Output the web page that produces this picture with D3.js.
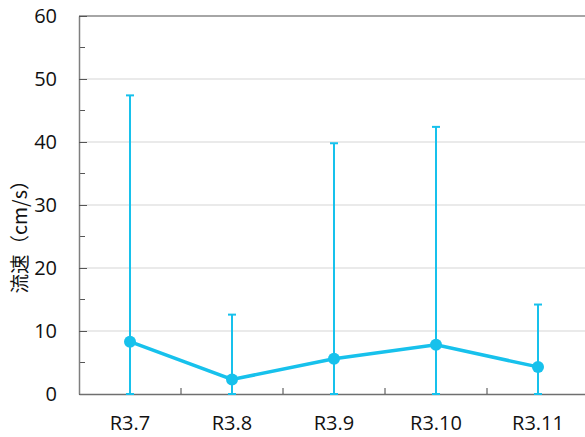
<!DOCTYPE html>
<html>
<head>
<meta charset="utf-8">
<script src="https://cdn.jsdelivr.net/npm/d3@7"></script>
<style>
  html, body { margin: 0; padding: 0; background: #fff; overflow: hidden; }
  svg { display: block; }
</style>
</head>
<body>
<svg id="chart" width="585" height="437"></svg>
<script>
// chart data
const categories = ["R3.7", "R3.8", "R3.9", "R3.10", "R3.11"];
const means = [8.3, 2.3, 5.6, 7.8, 4.3];
const errors = [39.1, 10.3, 34.2, 34.6, 9.9];
const yTicks = [0, 10, 20, 30, 40, 50, 60];
const yLabel = "流速（cm/s）";

const margin = { top: 16, left: 79 };
const plotW = 510, plotH = 378;
const lineColor = "#17c1ec";
const font = "'Open Sans', 'Noto Sans', sans-serif";

const svg = d3.select("#chart");
const g = svg.append("g").attr("transform", `translate(${margin.left},${margin.top})`);

const x = d3.scaleBand().domain(categories).range([0, plotW]);
const y = d3.scaleLinear().domain([0, 60]).range([plotH, 0]);

// gridlines
g.selectAll(".grid")
  .data(yTicks.filter(d => d > 0 && d < 60))
  .enter().append("line")
  .attr("x1", 0).attr("x2", plotW)
  .attr("y1", d => y(d)).attr("y2", d => y(d))
  .attr("stroke", "#e3e3e3").attr("stroke-width", 1.5);

// top border
g.append("line")
  .attr("x1", 0).attr("x2", plotW)
  .attr("y1", y(60)).attr("y2", y(60))
  .attr("stroke", "#a6a6a6").attr("stroke-width", 2);

// minor ticks at 5s
g.selectAll(".minor")
  .data(d3.range(5, 60, 10))
  .enter().append("line")
  .attr("x1", 0).attr("x2", 6)
  .attr("y1", d => y(d)).attr("y2", d => y(d))
  .attr("stroke", "#555").attr("stroke-width", 1);

// y axis
const yAxis = g.append("g")
  .call(d3.axisLeft(y).tickValues(yTicks).tickSizeInner(-8).tickSizeOuter(0).tickPadding(22))
  .attr("font-family", font);
yAxis.select(".domain").attr("stroke", "#7f7f7f").attr("stroke-width", 1.5);
yAxis.selectAll(".tick line").attr("stroke", "#555");
yAxis.selectAll("text").attr("font-size", 20).attr("fill", "#111");

// x axis
const xAxis = g.append("g")
  .attr("transform", `translate(0,${plotH})`)
  .call(d3.axisBottom(x).tickSize(0).tickPadding(22))
  .attr("font-family", font);
xAxis.select(".domain").attr("stroke", "#6f6f6f").attr("stroke-width", 1.5);
xAxis.selectAll("text").attr("font-size", 20).attr("fill", "#111");

// category boundary ticks
g.selectAll(".xtick")
  .data(categories.slice(1))
  .enter().append("line")
  .attr("x1", d => x(d)).attr("x2", d => x(d))
  .attr("y1", plotH).attr("y2", plotH - 6)
  .attr("stroke", "#444").attr("stroke-width", 1);

const cx = d => x(d) + x.bandwidth() / 2;

// error bars
const eb = g.selectAll(".err")
  .data(categories)
  .enter().append("g");
eb.append("line")
  .attr("x1", cx).attr("x2", cx)
  .attr("y1", (d, i) => y(means[i] + errors[i]))
  .attr("y2", (d, i) => y(Math.max(0, means[i] - errors[i])))
  .attr("stroke", lineColor).attr("stroke-width", 2);
eb.append("line")
  .attr("x1", d => cx(d) - 4).attr("x2", d => cx(d) + 4)
  .attr("y1", (d, i) => y(means[i] + errors[i]))
  .attr("y2", (d, i) => y(means[i] + errors[i]))
  .attr("stroke", lineColor).attr("stroke-width", 2);
eb.append("line")
  .attr("x1", d => cx(d) - 4).attr("x2", d => cx(d) + 4)
  .attr("y1", (d, i) => y(Math.max(0, means[i] - errors[i])))
  .attr("y2", (d, i) => y(Math.max(0, means[i] - errors[i])))
  .attr("stroke", lineColor).attr("stroke-width", 2);

// mean line
const line = d3.line()
  .x((d, i) => cx(categories[i]))
  .y(d => y(d));
g.append("path")
  .datum(means)
  .attr("d", line)
  .attr("fill", "none")
  .attr("stroke", lineColor)
  .attr("stroke-width", 3.5);

g.selectAll(".dot")
  .data(means)
  .enter().append("circle")
  .attr("cx", (d, i) => cx(categories[i]))
  .attr("cy", d => y(d))
  .attr("r", 6)
  .attr("fill", lineColor);

// y label
svg.append("text")
  .attr("transform", "translate(27,232) rotate(-90)")
  .attr("text-anchor", "middle")
  .attr("font-size", 19.5)
  .attr("font-family", "'Noto Sans CJK JP', 'Noto Sans', sans-serif")
  .attr("fill", "#111")
  .text(yLabel);
</script>
</body>
</html>
